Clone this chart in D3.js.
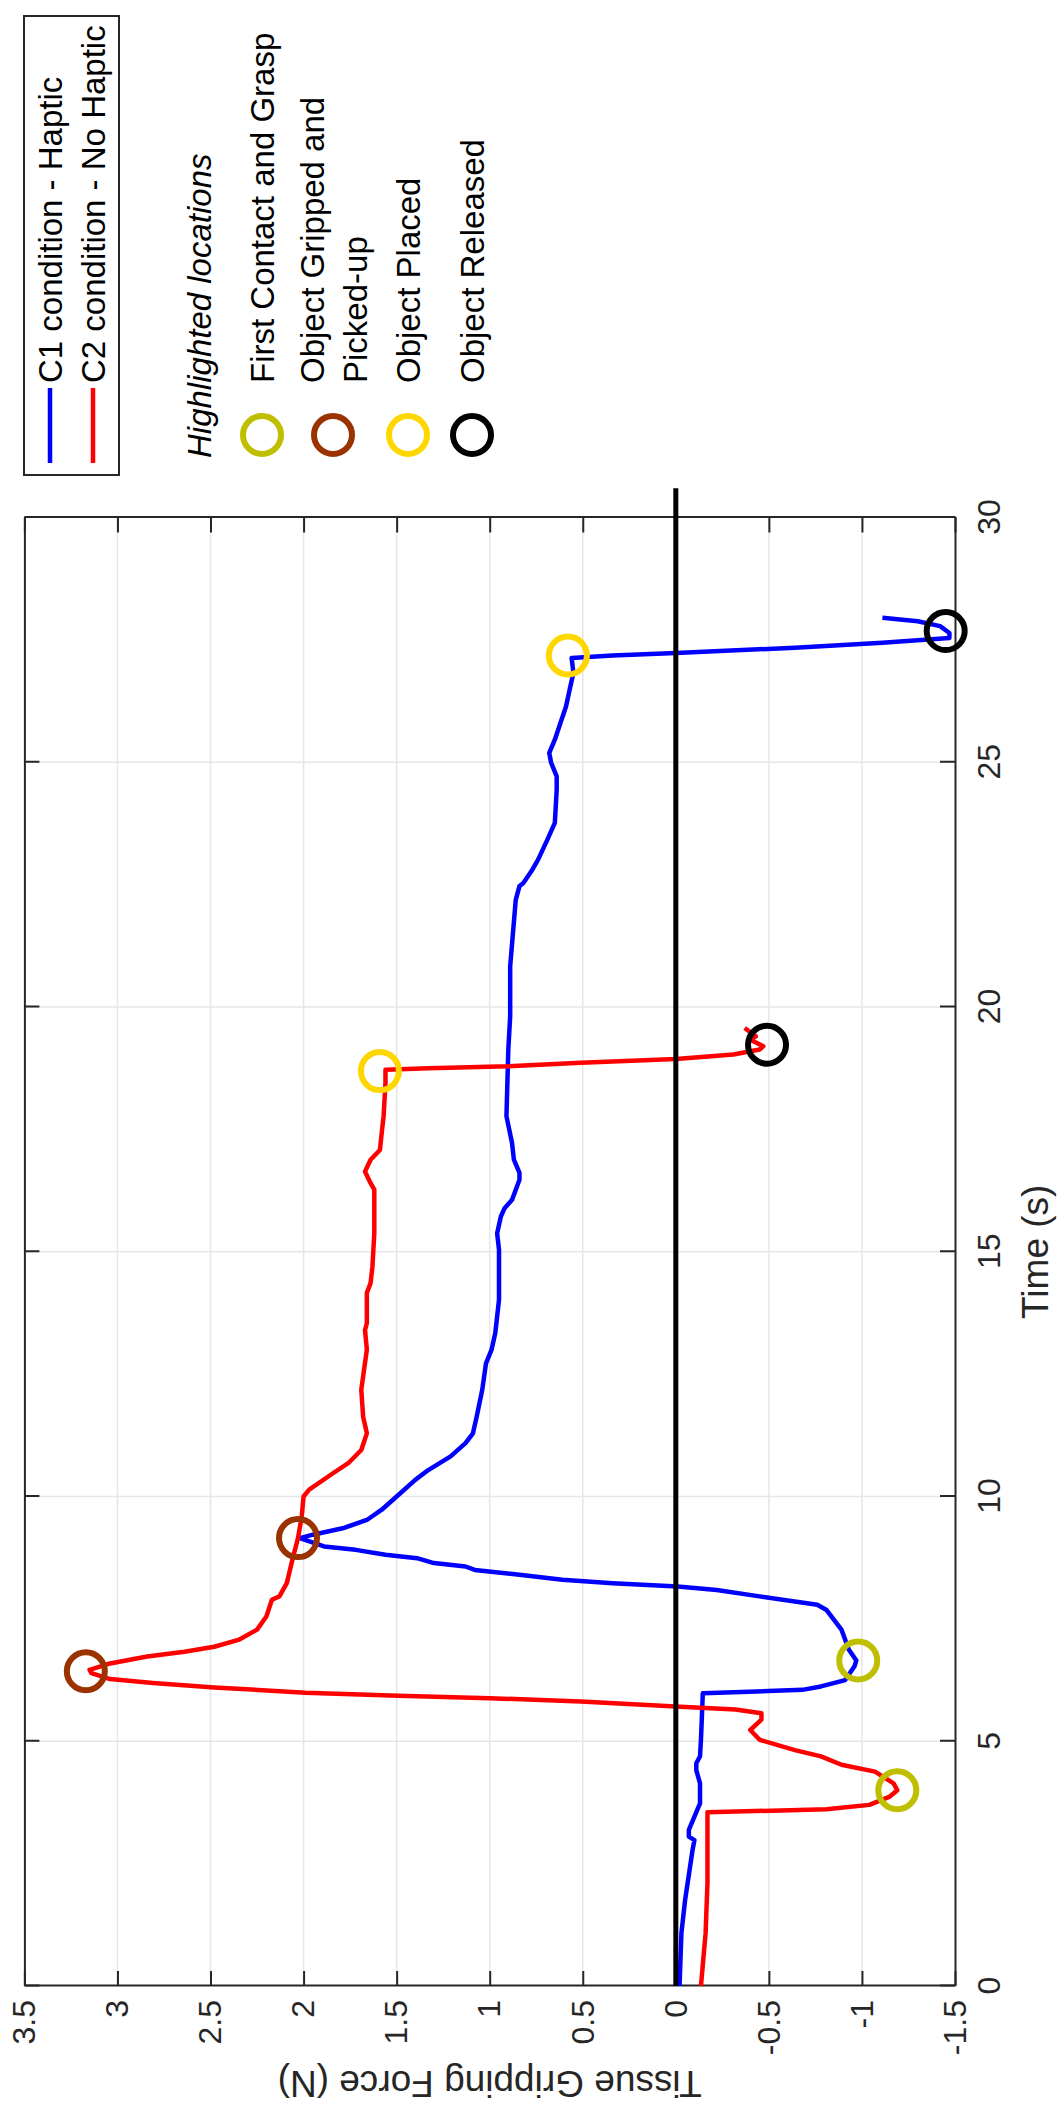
<!DOCTYPE html>
<html>
<head>
<meta charset="utf-8">
<script src="https://cdn.jsdelivr.net/npm/d3@7"></script>
<style>
body { margin: 0; background: #fff; }
text { font-family: "Liberation Sans", Arial, Helvetica, sans-serif; }
</style>
</head>
<body>
<script>
// C1 condition - Haptic (blue)
const c1Time = [0, 1.08, 1.76, 2.78, 2.98, 3.05, 3.19, 3.46, 3.73, 4.14, 4.41, 4.55, 4.69, 5.03, 5.5, 5.98,
  6.05, 6.12, 6.25, 6.53, 6.65, 6.87, 7.28, 7.68, 7.79, 7.96, 8.09, 8.16, 8.23, 8.30, 8.40, 8.50, 8.57, 8.64,
  8.74, 8.81, 8.91, 8.98, 9.15, 9.22, 9.35, 9.52, 9.73, 10.0, 10.34, 10.54, 10.82, 11.09, 11.29, 11.63, 12.18,
  12.72, 13.0, 13.34, 14.02, 15.04, 15.38, 15.72, 15.89, 16.06, 16.47, 16.61, 16.88, 17.22, 17.77, 19.13,
  19.81, 20.83, 22.19, 22.47, 22.53, 22.81, 23.01, 23.42, 23.76, 24.44, 24.71, 24.99, 25.19, 25.46, 25.8,
  26.14, 26.49, 26.83, 27.13, 27.18, 27.23, 27.34, 27.44, 27.54, 27.64, 27.78, 27.88, 27.95];
const c1Force = [-0.02, -0.03, -0.05, -0.09, -0.10, -0.07, -0.07, -0.10, -0.13, -0.13, -0.11, -0.11, -0.13,
  -0.135, -0.14, -0.145, -0.68, -0.78, -0.91, -0.96, -0.97, -0.93, -0.89, -0.81, -0.76, -0.45, -0.22, -0.01,
  0.34, 0.61, 0.84, 1.08, 1.13, 1.30, 1.39, 1.56, 1.72, 1.89, 2.02, 1.95, 1.79, 1.66, 1.58, 1.50, 1.40, 1.33,
  1.21, 1.13, 1.09, 1.07, 1.04, 1.02, 0.99, 0.97, 0.95, 0.95, 0.96, 0.94, 0.92, 0.88, 0.84, 0.84, 0.87, 0.88,
  0.91, 0.90, 0.89, 0.89, 0.86, 0.84, 0.82, 0.77, 0.74, 0.69, 0.65, 0.64, 0.64, 0.67, 0.68, 0.65, 0.62, 0.59,
  0.57, 0.55, 0.56, 0.34, 0.0, -0.64, -1.11, -1.47, -1.47, -1.42, -1.30, -1.11];

// C2 condition - No Haptic (red)
const c2Time = [0, 1.08, 2.1, 3.46, 3.55, 3.61, 3.70, 3.87, 4.0, 4.14, 4.38, 4.52, 4.69, 4.82, 5.03, 5.23,
  5.44, 5.57, 5.65, 5.71, 5.81, 5.88, 5.93, 5.99, 6.10, 6.19, 6.27, 6.39, 6.46, 6.59, 6.73, 6.83, 6.93, 7.07,
  7.28, 7.55, 7.89, 7.96, 8.23, 8.71, 9.15, 9.59, 10.0, 10.14, 10.48, 10.68, 10.95, 11.29, 11.63, 12.18, 13.0,
  13.4, 13.54, 14.16, 14.36, 14.7, 15.38, 16.27, 16.4, 16.64, 16.88, 17.08, 17.43, 17.77, 18.45, 18.72, 18.75,
  18.79, 18.86, 18.94, 19.03, 19.13, 19.2, 19.33, 19.40, 19.57];
const c2Force = [-0.135, -0.16, -0.17, -0.17, -0.17, -0.81, -1.04, -1.15, -1.19, -1.17, -1.07, -0.89, -0.78,
  -0.64, -0.45, -0.40, -0.46, -0.46, -0.32, 0.0, 0.51, 1.0, 1.49, 1.99, 2.48, 2.81, 3.04, 3.14, 3.15, 3.04,
  2.84, 2.64, 2.48, 2.35, 2.25, 2.20, 2.17, 2.13, 2.09, 2.06, 2.03, 2.01, 2.0, 1.97, 1.84, 1.76, 1.69, 1.66,
  1.68, 1.69, 1.66, 1.67, 1.66, 1.66, 1.64, 1.63, 1.62, 1.62, 1.64, 1.67, 1.64, 1.59, 1.58, 1.57, 1.56, 1.56,
  1.33, 0.90, 0.51, 0.0, -0.31, -0.45, -0.47, -0.40, -0.43, -0.37];

// zero reference line
const zeroTime = [0, 30.6];
const zeroForce = [0, 0];

// highlighted locations: [C1, C2]
const eventNames = ["First Contact and Grasp", "Object Gripped and|Picked-up", "Object Placed", "Object Released"];
const eventTimeC1 = [6.65, 9.15, 27.18, 27.68];
const eventForceC1 = [-0.98, 2.03, 0.58, -1.45];
const eventTimeC2 = [4.0, 6.43, 18.69, 19.23];
const eventForceC2 = [-1.19, 3.17, 1.59, -0.49];
const eventColors = ["#bfbf00", "#9a3300", "#ffd700", "#000000"];

const seriesNames = ["C1 condition - Haptic", "C2 condition - No Haptic"];
const seriesColors = ["#0000ff", "#ff0000"];

const timeTicks = [0, 5, 10, 15, 20, 25, 30];
const forceTicks = [-1.5, -1, -0.5, 0, 0.5, 1, 1.5, 2, 2.5, 3, 3.5];

const W = 1061, H = 2112;
const axisColor = "#262626";
const gridColor = "#e6e6e6";

let svg = d3.select("body")
  .append("svg")
    .attr("width", W)
    .attr("height", H);

// landscape figure turned a quarter turn
let g = svg.append("g")
  .attr("transform", `translate(0,${H}) rotate(-90)`);

const x = d3.scaleLinear().domain([0, 30]).range([126, 1594.5]);
const y = d3.scaleLinear().domain([-1.5, 3.5]).range([955, 24.4]);

// GRID
g.append("g").selectAll("line")
  .data(timeTicks.slice(1, -1))
  .enter().append("line")
    .attr("x1", d => x(d)).attr("x2", d => x(d))
    .attr("y1", y(3.5)).attr("y2", y(-1.5))
    .attr("stroke", gridColor).attr("stroke-width", 1.5);
g.append("g").selectAll("line")
  .data(forceTicks.slice(1, -1))
  .enter().append("line")
    .attr("y1", d => y(d)).attr("y2", d => y(d))
    .attr("x1", x(0)).attr("x2", x(30))
    .attr("stroke", gridColor).attr("stroke-width", 1.5);

// AXES
function styleAxis(sel) {
  sel.select(".domain").attr("stroke", axisColor).attr("stroke-width", 2);
  sel.selectAll(".tick line").attr("stroke", axisColor).attr("stroke-width", 2);
  sel.selectAll(".tick text")
    .attr("fill", axisColor)
    .attr("font-size", 32)
    .attr("font-family", "Liberation Sans, Arial, sans-serif");
}

g.append("g")
  .attr("transform", `translate(0,${y(-1.5)})`)
  .call(d3.axisBottom(x).tickValues(timeTicks).tickSizeInner(-15).tickSizeOuter(0)
    .tickPadding(22).tickFormat(d => String(d)))
  .call(styleAxis);
g.append("g")
  .attr("transform", `translate(0,${y(3.5)})`)
  .call(d3.axisTop(x).tickValues(timeTicks).tickSizeInner(-15).tickSizeOuter(0).tickFormat(""))
  .call(styleAxis);
g.append("g")
  .attr("transform", `translate(${x(0)},0)`)
  .call(d3.axisLeft(y).tickValues(forceTicks).tickSizeInner(-15).tickSizeOuter(0)
    .tickPadding(14).tickFormat(d => String(d)))
  .call(styleAxis);
g.append("g")
  .attr("transform", `translate(${x(30)},0)`)
  .call(d3.axisRight(y).tickValues(forceTicks).tickSizeInner(-15).tickSizeOuter(0).tickFormat(""))
  .call(styleAxis);

g.append("text")
  .attr("x", (x(0) + x(30)) / 2)
  .attr("y", 1048)
  .attr("text-anchor", "middle")
  .attr("font-size", 37)
  .attr("fill", axisColor)
  .text("Time (s)");
g.append("text")
  .attr("transform", `translate(41.5,${(y(3.5) + y(-1.5)) / 2}) rotate(-90)`)
  .attr("text-anchor", "middle")
  .attr("font-size", 37)
  .attr("fill", axisColor)
  .text("Tissue Gripping Force (N)");

// CURVES
const line = d3.line().x(d => x(d[0])).y(d => y(d[1]));
const series = [
  d3.zip(c1Time, c1Force),
  d3.zip(c2Time, c2Force)
];
g.append("g").selectAll("path")
  .data(series)
  .enter().append("path")
    .attr("d", line)
    .attr("fill", "none")
    .attr("stroke", (d, i) => seriesColors[i])
    .attr("stroke-width", 4.5)
    .attr("stroke-linejoin", "round");

g.append("path")
  .datum(d3.zip(zeroTime, zeroForce))
  .attr("d", line)
  .attr("fill", "none")
  .attr("stroke", "#000")
  .attr("stroke-width", 5);

// HIGHLIGHTED LOCATIONS
const events = [];
eventNames.forEach((n, i) => {
  events.push({ t: eventTimeC1[i], f: eventForceC1[i], c: eventColors[i] });
  events.push({ t: eventTimeC2[i], f: eventForceC2[i], c: eventColors[i] });
});
g.append("g").selectAll("circle")
  .data(events)
  .enter().append("circle")
    .attr("cx", d => x(d.t))
    .attr("cy", d => y(d.f))
    .attr("r", 19)
    .attr("fill", "none")
    .attr("stroke", d => d.c)
    .attr("stroke-width", 6);

// LEGEND
let legend = g.append("g").attr("id", "legend");
legend.append("rect")
  .attr("x", 1637).attr("y", 24)
  .attr("width", 459).attr("height", 95)
  .attr("fill", "#fff")
  .attr("stroke", axisColor)
  .attr("stroke-width", 2);

const rowY = [50, 93];
seriesNames.forEach((n, i) => {
  legend.append("line")
    .attr("x1", 1649).attr("x2", 1724)
    .attr("y1", rowY[i]).attr("y2", rowY[i])
    .attr("stroke", seriesColors[i]).attr("stroke-width", 4.5);
  legend.append("text")
    .attr("x", 1729).attr("y", rowY[i] + 12)
    .attr("font-size", 33)
    .text(n);
});

legend.append("text")
  .attr("x", 1654).attr("y", 211)
  .attr("font-size", 33)
  .attr("font-style", "italic")
  .text("Highlighted locations");

const markY = [262, 333, 408, 472];
eventNames.forEach((n, i) => {
  legend.append("circle")
    .attr("cx", 1677).attr("cy", markY[i])
    .attr("r", 19)
    .attr("fill", "none")
    .attr("stroke", eventColors[i])
    .attr("stroke-width", 6);
  const parts = n.split("|");
  const t = legend.append("text").attr("font-size", 33);
  parts.forEach((p, k) => {
    t.append("tspan")
      .attr("x", 1729)
      .attr("y", markY[i] + 12 + (k - (parts.length - 1) / 2) * 43)
      .text(p);
  });
});
</script>
</body>
</html>
